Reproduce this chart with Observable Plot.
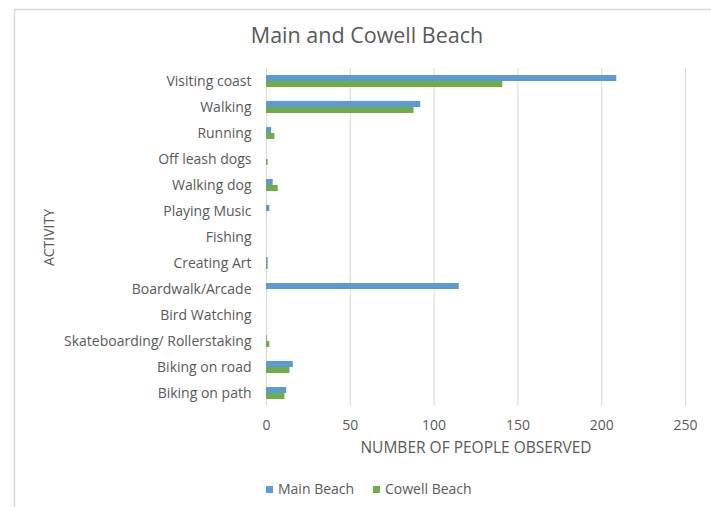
<!DOCTYPE html>
<html>
<head>
<meta charset="utf-8">
<script src="https://cdn.jsdelivr.net/npm/d3@7"></script>
<script src="https://cdn.jsdelivr.net/npm/@observablehq/plot@0.6"></script>
<style>
  html, body { margin: 0; padding: 0; background: #fff; }
  #chart svg { display: block; }
</style>
</head>
<body>
<div id="chart"></div>
<script>
const activities = ["Visiting coast", "Walking", "Running", "Off leash dogs", "Walking dog", "Playing Music", "Fishing", "Creating Art", "Boardwalk/Arcade", "Bird Watching", "Skateboarding/ Rollerstaking", "Biking on road", "Biking on path"];
const mainBeach   = [209, 92, 3, 0, 4, 2, 0, 1, 115, 0, 0.5, 16, 12];
const cowellBeach = [141, 88, 5, 1, 7, 0, 0, 1, 0, 0, 2, 14, 11];
const seriesNames = ["Main Beach", "Cowell Beach"];
const seriesColors = ["#5b9bd5", "#70ad47"];
const xTicks = [0, 50, 100, 150, 200, 250];

const data = [];
activities.forEach((a, i) => {
  data.push({activity: a, series: seriesNames[0], value: mainBeach[i]});
  data.push({activity: a, series: seriesNames[1], value: cowellBeach[i]});
});

const FONT = "'Open Sans', Lato, sans-serif";
const TXT = "#595959";

const plot = Plot.plot({
  width: 711,
  height: 507,
  marginLeft: 266,
  marginRight: 26,
  marginTop: 67,
  marginBottom: 100,
  style: {fontFamily: FONT, fontSize: "14px", color: TXT, background: "transparent", overflow: "visible"},
  x: {domain: [0, 250]},
  fy: {domain: activities, padding: 0},
  y: {domain: seriesNames, paddingInner: 0, paddingOuter: 0.95, axis: null},
  color: {domain: seriesNames, range: seriesColors},
  marks: [
    Plot.gridX(xTicks, {stroke: "#d9d9d9", strokeOpacity: 1, strokeWidth: 1}),
    Plot.barX(data, {x: "value", y: "series", fy: "activity", fill: "series"}),
    Plot.axisX({ticks: xTicks, tickSize: 0, tickPadding: 14, label: null, fill: TXT, fontSize: 14}),
    Plot.axisX({ticks: [], tickSize: 0, label: "NUMBER OF PEOPLE OBSERVED", labelAnchor: "center", labelArrow: "none", labelOffset: 46, fill: TXT, fontSize: 15.5}),
    Plot.axisFy({anchor: "left", tickSize: 0, tickPadding: 15, label: "ACTIVITY", labelAnchor: "center", labelArrow: "none", labelOffset: 222, fill: TXT, fontSize: 14})
  ]
});

const svg = d3.select(plot);
// chart border
svg.insert("path", ":first-child")
  .attr("d", "M14.5,507V9.5H711")
  .attr("fill", "none").attr("stroke", "#d9d9d9").attr("stroke-width", 1.5);
// title
svg.append("text")
  .attr("x", 367).attr("y", 43)
  .attr("text-anchor", "middle")
  .attr("font-family", FONT).attr("font-size", 21.5).attr("fill", TXT)
  .text("Main and Cowell Beach");
// legend
const lg = svg.append("g").attr("font-family", FONT).attr("font-size", 14).attr("fill", TXT).attr("text-anchor", "start");
const legendX = [266, 373];
seriesNames.forEach((s, i) => {
  lg.append("rect").attr("x", legendX[i]).attr("y", 486).attr("width", 7).attr("height", 7).attr("fill", seriesColors[i]);
  lg.append("text").attr("x", legendX[i] + 12).attr("y", 494).text(s);
});

document.getElementById("chart").appendChild(plot);
</script>
</body>
</html>
